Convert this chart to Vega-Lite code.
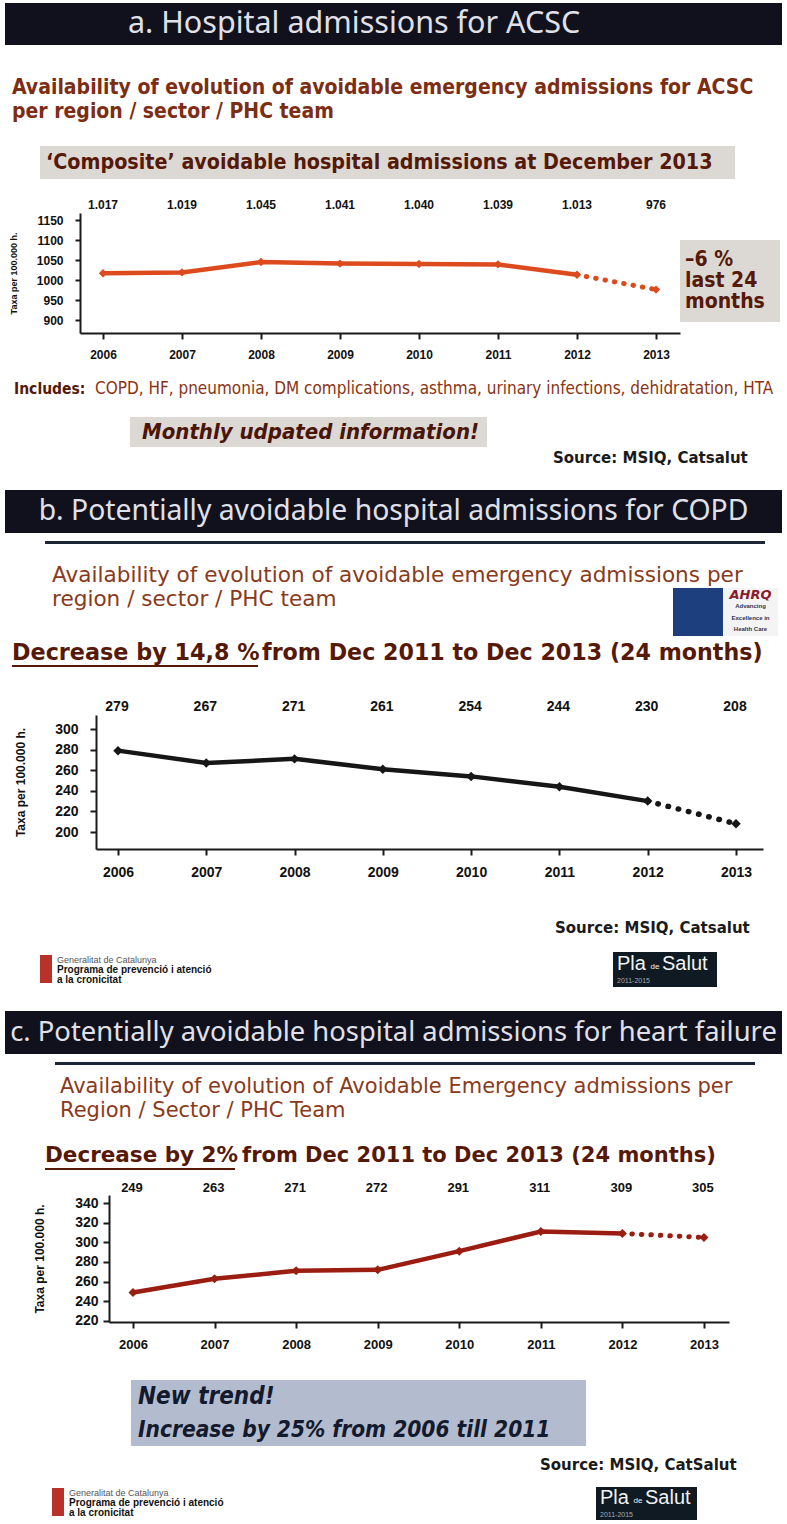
{
"$schema": "https://vega.github.io/schema/vega-lite/v6.json",
"background": "white",
"padding": 0,
"spacing": 0,
"bounds": "full",
"config": {"view": {"stroke": null}, "concat": {"spacing": 0}, "axis": {"grid": false}},
"datasets": {
"texts": [
{"id": "bA", "text": "a. Hospital admissions for ACSC"},
{"id": "bB", "text": "b. Potentially avoidable hospital admissions for COPD"},
{"id": "bC", "text": "c. Potentially avoidable hospital admissions for heart failure"},
{"id": "avA1", "text": "Availability of evolution of avoidable emergency admissions for ACSC"},
{"id": "avA2", "text": "per region / sector / PHC team"},
{"id": "compA", "text": "‘Composite’ avoidable hospital admissions at December 2013"},
{"id": "boxA1", "text": "–6 %"},
{"id": "boxA2", "text": "last 24"},
{"id": "boxA3", "text": "months"},
{"id": "incA", "text": "Includes:"},
{"id": "incB", "text": "COPD, HF, pneumonia, DM complications, asthma, urinary infections, dehidratation, HTA"},
{"id": "monA", "text": "Monthly udpated information!"},
{"id": "srcA", "text": "Source: MSIQ, Catsalut"},
{"id": "avB1", "text": "Availability of evolution of avoidable emergency admissions per"},
{"id": "avB2", "text": "region / sector / PHC team"},
{"id": "ahrq", "text": "AHRQ"},
{"id": "ahrq2", "text": "Advancing"},
{"id": "ahrq3", "text": "Excellence in"},
{"id": "ahrq4", "text": "Health Care"},
{"id": "decB1", "text": "Decrease by 14,8 %"},
{"id": "decB2", "text": "from Dec 2011 to Dec 2013 (24 months)"},
{"id": "srcB", "text": "Source: MSIQ, Catsalut"},
{"id": "gen1", "text": "Generalitat de Catalunya"},
{"id": "gen2", "text": "Programa de prevenció i atenció"},
{"id": "gen3", "text": "a la cronicitat"},
{"id": "pla1", "text": "Pla"},
{"id": "pla2", "text": "de"},
{"id": "pla3", "text": "Salut"},
{"id": "plaY", "text": "2011-2015"},
{"id": "avC1", "text": "Availability of evolution of Avoidable Emergency admissions per"},
{"id": "avC2", "text": "Region / Sector / PHC Team"},
{"id": "decC1", "text": "Decrease by 2%"},
{"id": "decC2", "text": "from Dec 2011 to Dec 2013 (24 months)"},
{"id": "nt1", "text": "New trend!"},
{"id": "nt2", "text": "Increase by 25% from 2006 till 2011"},
{"id": "srcC", "text": "Source: MSIQ, CatSalut"}
],
"acsc": [
{"year": 2006, "value": 1017, "label": "1.017"},
{"year": 2007, "value": 1019, "label": "1.019"},
{"year": 2008, "value": 1045, "label": "1.045"},
{"year": 2009, "value": 1041, "label": "1.041"},
{"year": 2010, "value": 1040, "label": "1.040"},
{"year": 2011, "value": 1039, "label": "1.039"},
{"year": 2012, "value": 1013, "label": "1.013"},
{"year": 2013, "value": 976, "label": "976"}
],
"copd": [
{"year": 2006, "value": 279},
{"year": 2007, "value": 267},
{"year": 2008, "value": 271},
{"year": 2009, "value": 261},
{"year": 2010, "value": 254},
{"year": 2011, "value": 244},
{"year": 2012, "value": 230},
{"year": 2013, "value": 208}
],
"hf": [
{"year": 2006, "value": 249},
{"year": 2007, "value": 263},
{"year": 2008, "value": 271},
{"year": 2009, "value": 272},
{"year": 2010, "value": 291},
{"year": 2011, "value": 311},
{"year": 2012, "value": 309},
{"year": 2013, "value": 305}
]
},
"vconcat": [
{"width": 787, "height": 3, "data": {"values": []}, "mark": "point"},
{"spacing": 0, "hconcat": [
 {"width": 5, "height": 42, "data": {"values": []}, "mark": "point"},
 {"width": 777, "height": 42, "view": {"fill": "#10111d"}, "data": {"name": "texts"}, "transform": [{"filter": "datum.id==='bA'"}],
  "mark": {"type": "text", "align": "left", "baseline": "middle", "font": "Noto Sans", "fontSize": 30.5, "fill": "#e0e0e8"},
  "encoding": {"text": {"field": "text"}, "x": {"datum": "s", "type": "nominal", "scale": {"type": "point", "align": 0.1583}, "axis": null}}}
]},
{"width": 787, "height": 31, "data": {"values": []}, "mark": "point"},
{"spacing": 0, "hconcat": [
 {"width": 12, "height": 24, "data": {"values": []}, "mark": "point"},
 {"width": 770, "height": 24, "data": {"name": "texts"}, "transform": [{"filter": "datum.id==='avA1'"}],
  "mark": {"type": "text", "align": "left", "baseline": "middle", "font": "DejaVu Sans Condensed, DejaVu Sans", "fontSize": 21, "fontWeight": "bold", "fill": "#7d2d12"},
  "encoding": {"text": {"field": "text"}, "x": {"datum": "s", "type": "nominal", "scale": {"type": "point", "padding": 0, "align": 0}, "axis": null}}}
]},
{"spacing": 0, "hconcat": [
 {"width": 12, "height": 24, "data": {"values": []}, "mark": "point"},
 {"width": 420, "height": 24, "data": {"name": "texts"}, "transform": [{"filter": "datum.id==='avA2'"}],
  "mark": {"type": "text", "align": "left", "baseline": "middle", "font": "DejaVu Sans Condensed, DejaVu Sans", "fontSize": 21, "fontWeight": "bold", "fill": "#7d2d12"},
  "encoding": {"text": {"field": "text"}, "x": {"datum": "s", "type": "nominal", "scale": {"type": "point", "padding": 0, "align": 0}, "axis": null}}}
]},
{"width": 787, "height": 22, "data": {"values": []}, "mark": "point"},
{"spacing": 0, "hconcat": [
 {"width": 40, "height": 33, "data": {"values": []}, "mark": "point"},
 {"width": 695, "height": 33, "view": {"fill": "#dcd8d4"}, "data": {"name": "texts"}, "transform": [{"filter": "datum.id==='compA'"}],
  "mark": {"type": "text", "align": "left", "baseline": "middle", "font": "DejaVu Sans Condensed, DejaVu Sans", "fontSize": 21.3, "fontWeight": "bold", "fill": "#561807"},
  "encoding": {"text": {"field": "text"}, "x": {"datum": "s", "type": "nominal", "scale": {"type": "point", "align": 0.0086}, "axis": null}}}
]},
{"width": 787, "height": 18, "data": {"values": []}, "mark": "point"},
{"spacing": 0, "hconcat": [
 {"width": 80, "height": 16, "data": {"values": []}, "mark": "point"},
 {"width": 600, "height": 16, "data": {"name": "acsc"},
  "mark": {"type": "text", "baseline": "middle", "font": "Liberation Sans Narrow, Liberation Sans", "fontSize": 12, "fontWeight": "bold", "fill": "#111111"},
  "encoding": {"x": {"field": "year", "type": "quantitative", "scale": {"domain": [2005.709, 2013.304], "nice": false, "zero": false}, "axis": null}, "text": {"field": "label"}}}
]},
{"spacing": 0, "hconcat": [
 {"width": 9, "height": 120, "data": {"values": []}, "mark": "point"},
 {"width": 600, "height": 120, "data": {"name": "acsc"},
  "encoding": {
   "x": {"field": "year", "type": "quantitative", "scale": {"domain": [2005.709, 2013.304], "nice": false, "zero": false},
    "axis": {"values": [2006, 2007, 2008, 2009, 2010, 2011, 2012, 2013], "format": "d", "title": null, "domainColor": "#1a1a1a", "domainWidth": 2, "tickColor": "#1a1a1a", "tickWidth": 2, "tickSize": 6, "labelPadding": 10, "labelFont": "Liberation Sans Narrow, Liberation Sans", "labelFontSize": 12, "labelFontWeight": "bold", "labelColor": "#111111", "labelFlush": false, "labelOverlap": false}},
   "y": {"field": "value", "type": "quantitative", "scale": {"domain": [867.5, 1167.5], "nice": false, "zero": false},
    "axis": {"values": [900, 950, 1000, 1050, 1100, 1150], "format": "d", "title": "Taxa per 100.000 h.", "titleFont": "Liberation Sans", "titleFontSize": 9, "titleFontWeight": "bold", "titleColor": "#111111", "titlePadding": 22, "minExtent": 40, "maxExtent": 40, "domainColor": "#1a1a1a", "domainWidth": 2, "tickColor": "#1a1a1a", "tickWidth": 2, "tickSize": 5, "labelPadding": 12, "labelFont": "Liberation Sans Narrow, Liberation Sans", "labelFontSize": 12, "labelFontWeight": "bold", "labelColor": "#111111", "labelOverlap": false}}
  },
  "layer": [
   {"transform": [{"filter": "datum.year <= 2012"}], "mark": {"type": "line", "color": "#dc4a1d", "strokeWidth": 4.5}},
   {"transform": [{"filter": "datum.year >= 2012"}], "mark": {"type": "line", "color": "#dc4a1d", "strokeWidth": 5, "strokeDash": [0.5, 9], "strokeCap": "round"}},
   {"mark": {"type": "point", "shape": "diamond", "filled": true, "size": 70, "color": "#dc4a1d", "opacity": 1}}
  ]},
 {"spacing": 0, "vconcat": [
  {"width": 100, "height": 27, "data": {"values": []}, "mark": "point"},
  {"width": 100, "height": 82, "view": {"fill": "#dcd8d4"}, "data": {"name": "texts"}, "transform": [{"filter": "indexof(['boxA1','boxA2','boxA3'], datum.id) >= 0"}],
   "mark": {"type": "text", "align": "left", "baseline": "middle", "font": "DejaVu Sans Condensed, DejaVu Sans", "fontSize": 21, "fontWeight": "bold", "fill": "#561807"},
   "encoding": {"text": {"field": "text"},
    "x": {"datum": "s", "type": "nominal", "scale": {"type": "point", "align": 0.05}, "axis": null},
    "y": {"field": "id", "type": "nominal", "sort": ["boxA1", "boxA2", "boxA3"], "scale": {"type": "point", "padding": 0.907}, "axis": null}}}
 ]},
 {"width": 1, "height": 164, "data": {"values": []}, "mark": "point"}
]},
{"spacing": 0, "hconcat": [
 {"width": 14, "height": 24, "data": {"values": []}, "mark": "point"},
 {"width": 81, "height": 24, "data": {"name": "texts"}, "transform": [{"filter": "datum.id==='incA'"}],
  "mark": {"type": "text", "align": "left", "baseline": "middle", "font": "DejaVu Sans Condensed, DejaVu Sans", "fontSize": 15.5, "fontWeight": "bold", "fill": "#561807"},
  "encoding": {"text": {"field": "text"}, "x": {"datum": "s", "type": "nominal", "scale": {"type": "point", "padding": 0, "align": 0}, "axis": null}}},
 {"width": 690, "height": 24, "data": {"name": "texts"}, "transform": [{"filter": "datum.id==='incB'"}],
  "mark": {"type": "text", "align": "left", "baseline": "middle", "font": "DejaVu Sans Condensed, DejaVu Sans", "fontSize": 17, "fill": "#8c3312"},
  "encoding": {"text": {"field": "text"}, "x": {"datum": "s", "type": "nominal", "scale": {"type": "point", "padding": 0, "align": 0}, "axis": null}}}
]},
{"width": 787, "height": 16, "data": {"values": []}, "mark": "point"},
{"spacing": 0, "hconcat": [
 {"width": 130, "height": 30, "data": {"values": []}, "mark": "point"},
 {"width": 357, "height": 30, "view": {"fill": "#dcd8d4"}, "data": {"name": "texts"}, "transform": [{"filter": "datum.id==='monA'"}],
  "mark": {"type": "text", "align": "left", "baseline": "middle", "font": "DejaVu Sans Condensed, DejaVu Sans", "fontSize": 22, "fontWeight": "bold", "fontStyle": "italic", "fill": "#4a1407"},
  "encoding": {"text": {"field": "text"}, "x": {"datum": "s", "type": "nominal", "scale": {"type": "point", "align": 0.0336}, "axis": null}}}
]},
{"spacing": 0, "hconcat": [
 {"width": 553, "height": 22, "data": {"values": []}, "mark": "point"},
 {"width": 225, "height": 22, "data": {"name": "texts"}, "transform": [{"filter": "datum.id==='srcA'"}],
  "mark": {"type": "text", "align": "left", "baseline": "middle", "font": "DejaVu Sans", "fontSize": 15, "fontWeight": "bold", "fill": "#1a1a1a"},
  "encoding": {"text": {"field": "text"}, "x": {"datum": "s", "type": "nominal", "scale": {"type": "point", "padding": 0, "align": 0}, "axis": null}}}
]},
{"width": 787, "height": 21, "data": {"values": []}, "mark": "point"},
{"spacing": 0, "hconcat": [
 {"width": 5, "height": 43, "data": {"values": []}, "mark": "point"},
 {"width": 777, "height": 43, "view": {"fill": "#10111d"}, "data": {"name": "texts"}, "transform": [{"filter": "datum.id==='bB'"}],
  "mark": {"type": "text", "baseline": "middle", "font": "Noto Sans", "fontSize": 28.3, "fill": "#e0e0e8"},
  "encoding": {"text": {"field": "text"}}}
]},
{"width": 787, "height": 8, "data": {"values": []}, "mark": "point"},
{"spacing": 0, "hconcat": [
 {"width": 45, "height": 3, "data": {"values": []}, "mark": "point"},
 {"width": 720, "height": 3, "view": {"fill": "#1c2636"}, "data": {"values": []}, "mark": "point"}
]},
{"width": 787, "height": 20, "data": {"values": []}, "mark": "point"},
{"spacing": 0, "hconcat": [
 {"width": 52, "height": 24, "data": {"values": []}, "mark": "point"},
 {"width": 725, "height": 24, "data": {"name": "texts"}, "transform": [{"filter": "datum.id==='avB1'"}],
  "mark": {"type": "text", "align": "left", "baseline": "middle", "font": "DejaVu Sans", "fontSize": 21.6, "fill": "#8a3a1a"},
  "encoding": {"text": {"field": "text"}, "x": {"datum": "s", "type": "nominal", "scale": {"type": "point", "padding": 0, "align": 0}, "axis": null}}}
]},
{"spacing": 0, "hconcat": [
 {"width": 52, "height": 24, "data": {"values": []}, "mark": "point"},
 {"width": 400, "height": 24, "data": {"name": "texts"}, "transform": [{"filter": "datum.id==='avB2'"}],
  "mark": {"type": "text", "align": "left", "baseline": "middle", "font": "DejaVu Sans", "fontSize": 21.6, "fill": "#8a3a1a"},
  "encoding": {"text": {"field": "text"}, "x": {"datum": "s", "type": "nominal", "scale": {"type": "point", "padding": 0, "align": 0}, "axis": null}}},
 {"width": 221, "height": 48, "data": {"values": []}, "mark": "point"},
 {"width": 50, "height": 48, "view": {"fill": "#1e3f7e"}, "data": {"values": []}, "mark": "point"},
 {"width": 55, "height": 48, "view": {"fill": "#f4f4f4"}, "data": {"name": "texts"}, "transform": [{"filter": "indexof(['ahrq','ahrq2','ahrq3','ahrq4'], datum.id) >= 0"}],
  "encoding": {"text": {"field": "text"},
   "y": {"field": "id", "type": "nominal", "sort": ["ahrq", "ahrq2", "ahrq3", "ahrq4"], "scale": {"type": "point", "padding": 0.6}, "axis": null}},
  "layer": [
   {"transform": [{"filter": "datum.id==='ahrq'"}], "mark": {"type": "text", "baseline": "middle", "font": "DejaVu Sans", "fontSize": 13, "fontWeight": "bold", "fontStyle": "italic", "fill": "#8b1a2b"}},
   {"transform": [{"filter": "datum.id!=='ahrq'"}], "mark": {"type": "text", "baseline": "middle", "font": "Liberation Sans", "fontSize": 6, "fontWeight": "bold", "fill": "#333355"}}
  ]}
]},
{"width": 787, "height": 5, "data": {"values": []}, "mark": "point"},
{"spacing": 0, "hconcat": [
 {"width": 12, "height": 24, "data": {"values": []}, "mark": "point"},
 {"width": 250, "height": 24, "data": {"name": "texts"}, "transform": [{"filter": "datum.id==='decB1'"}],
  "mark": {"type": "text", "align": "left", "baseline": "middle", "font": "DejaVu Sans", "fontSize": 22.3, "fontWeight": "bold", "fill": "#561807"},
  "encoding": {"text": {"field": "text"}, "x": {"datum": "s", "type": "nominal", "scale": {"type": "point", "padding": 0, "align": 0}, "axis": null}}},
 {"width": 515, "height": 24, "data": {"name": "texts"}, "transform": [{"filter": "datum.id==='decB2'"}],
  "mark": {"type": "text", "align": "left", "baseline": "middle", "font": "DejaVu Sans", "fontSize": 22.2, "fontWeight": "bold", "fill": "#561807"},
  "encoding": {"text": {"field": "text"}, "x": {"datum": "s", "type": "nominal", "scale": {"type": "point", "padding": 0, "align": 0}, "axis": null}}}
]},
{"spacing": 0, "hconcat": [
 {"width": 12, "height": 2, "data": {"values": []}, "mark": "point"},
 {"width": 246, "height": 2, "view": {"fill": "#561807"}, "data": {"values": []}, "mark": "point"}
]},
{"width": 787, "height": 32, "data": {"values": []}, "mark": "point"},
{"spacing": 0, "hconcat": [
 {"width": 95, "height": 16, "data": {"values": []}, "mark": "point"},
 {"width": 667, "height": 16, "data": {"name": "copd"},
  "mark": {"type": "text", "baseline": "middle", "font": "Liberation Sans Narrow, Liberation Sans", "fontSize": 14, "fontWeight": "bold", "fill": "#111111"},
  "encoding": {"x": {"field": "year", "type": "quantitative", "scale": {"domain": [2005.751, 2013.306], "nice": false, "zero": false}, "axis": null}, "text": {"field": "value"}}}
]},
{"spacing": 0, "hconcat": [
 {"width": 14, "height": 134, "data": {"values": []}, "mark": "point"},
 {"width": 667, "height": 134, "data": {"name": "copd"},
  "encoding": {
   "x": {"field": "year", "type": "quantitative", "scale": {"domain": [2005.751, 2013.306], "nice": false, "zero": false},
    "axis": {"values": [2006, 2007, 2008, 2009, 2010, 2011, 2012, 2013], "format": "d", "title": null, "domainColor": "#1a1a1a", "domainWidth": 2, "tickColor": "#1a1a1a", "tickWidth": 2, "tickSize": 6, "labelPadding": 10, "labelFont": "Liberation Sans Narrow, Liberation Sans", "labelFontSize": 14, "labelFontWeight": "bold", "labelColor": "#111111", "labelFlush": false, "labelOverlap": false}},
   "y": {"field": "value", "type": "quantitative", "scale": {"domain": [183.5, 313.6], "nice": false, "zero": false},
    "axis": {"values": [200, 220, 240, 260, 280, 300], "format": "d", "title": "Taxa per 100.000 h.", "titleFont": "Liberation Sans", "titleFontSize": 12, "titleFontWeight": "bold", "titleColor": "#111111", "titlePadding": 29, "minExtent": 40, "maxExtent": 40, "domainColor": "#1a1a1a", "domainWidth": 2, "tickColor": "#1a1a1a", "tickWidth": 2, "tickSize": 6, "labelPadding": 12, "labelFont": "Liberation Sans Narrow, Liberation Sans", "labelFontSize": 14, "labelFontWeight": "bold", "labelColor": "#111111", "labelOverlap": false}}
  },
  "layer": [
   {"transform": [{"filter": "datum.year <= 2012"}], "mark": {"type": "line", "color": "#161616", "strokeWidth": 4.5}},
   {"transform": [{"filter": "datum.year >= 2012"}], "mark": {"type": "line", "color": "#161616", "strokeWidth": 5.5, "strokeDash": [0.5, 10], "strokeCap": "round"}},
   {"mark": {"type": "point", "shape": "diamond", "filled": true, "size": 90, "color": "#161616", "opacity": 1}}
  ]},
 {"width": 1, "height": 203, "data": {"values": []}, "mark": "point"}
]},
{"spacing": 0, "hconcat": [
 {"width": 555, "height": 20, "data": {"values": []}, "mark": "point"},
 {"width": 225, "height": 20, "data": {"name": "texts"}, "transform": [{"filter": "datum.id==='srcB'"}],
  "mark": {"type": "text", "align": "left", "baseline": "middle", "font": "DejaVu Sans", "fontSize": 15, "fontWeight": "bold", "fill": "#1a1a1a"},
  "encoding": {"text": {"field": "text"}, "x": {"datum": "s", "type": "nominal", "scale": {"type": "point", "padding": 0, "align": 0}, "axis": null}}}
]},
{"width": 787, "height": 14, "data": {"values": []}, "mark": "point"},
{"spacing": 0, "hconcat": [
 {"width": 40, "height": 35, "data": {"values": []}, "mark": "point"},
 {"spacing": 0, "vconcat": [
  {"width": 182, "height": 3, "data": {"values": []}, "mark": "point"},
  {"spacing": 0, "hconcat": [
   {"width": 12, "height": 28, "view": {"fill": "#b8322a"}, "data": {"values": []}, "mark": "point"},
   {"width": 5, "height": 28, "data": {"values": []}, "mark": "point"},
   {"spacing": 0, "vconcat": [
    {"width": 165, "height": 10, "data": {"name": "texts"}, "transform": [{"filter": "datum.id==='gen1'"}],
     "mark": {"type": "text", "align": "left", "baseline": "middle", "font": "Liberation Sans", "fontSize": 9, "fill": "#555555"},
     "encoding": {"text": {"field": "text"}, "x": {"datum": "s", "type": "nominal", "scale": {"type": "point", "padding": 0, "align": 0}, "axis": null}}},
    {"width": 165, "height": 10, "data": {"name": "texts"}, "transform": [{"filter": "datum.id==='gen2'"}],
     "mark": {"type": "text", "align": "left", "baseline": "middle", "font": "Liberation Sans", "fontSize": 10, "fontWeight": "bold", "fill": "#111111"},
     "encoding": {"text": {"field": "text"}, "x": {"datum": "s", "type": "nominal", "scale": {"type": "point", "padding": 0, "align": 0}, "axis": null}}},
    {"width": 165, "height": 10, "data": {"name": "texts"}, "transform": [{"filter": "datum.id==='gen3'"}],
     "mark": {"type": "text", "align": "left", "baseline": "middle", "font": "Liberation Sans", "fontSize": 10, "fontWeight": "bold", "fill": "#111111"},
     "encoding": {"text": {"field": "text"}, "x": {"datum": "s", "type": "nominal", "scale": {"type": "point", "padding": 0, "align": 0}, "axis": null}}}
   ]}
  ]}
 ]},
 {"width": 391, "height": 35, "data": {"values": []}, "mark": "point"},
 {"spacing": 0, "vconcat": [
  {"spacing": 0, "hconcat": [
   {"width": 4, "height": 23, "view": {"fill": "#0f1a22"}, "data": {"values": []}, "mark": "point"},
   {"width": 31, "height": 23, "view": {"fill": "#0f1a22"}, "data": {"name": "texts"}, "transform": [{"filter": "datum.id==='pla1'"}],
    "mark": {"type": "text", "align": "left", "baseline": "middle", "font": "Liberation Sans", "fontSize": 20, "fill": "#f2f2f2"},
    "encoding": {"text": {"field": "text"}, "x": {"datum": "s", "type": "nominal", "scale": {"type": "point", "padding": 0, "align": 0}, "axis": null}}},
   {"width": 14, "height": 23, "view": {"fill": "#0f1a22"}, "data": {"name": "texts"}, "transform": [{"filter": "datum.id==='pla2'"}],
    "mark": {"type": "text", "baseline": "middle", "font": "Liberation Sans", "fontSize": 8, "fill": "#f2f2f2", "dy": 3},
    "encoding": {"text": {"field": "text"}}},
   {"width": 55, "height": 23, "view": {"fill": "#0f1a22"}, "data": {"name": "texts"}, "transform": [{"filter": "datum.id==='pla3'"}],
    "mark": {"type": "text", "align": "left", "baseline": "middle", "font": "Liberation Sans", "fontSize": 20, "fill": "#f2f2f2"},
    "encoding": {"text": {"field": "text"}, "x": {"datum": "s", "type": "nominal", "scale": {"type": "point", "padding": 0, "align": 0}, "axis": null}}}
  ]},
  {"spacing": 0, "hconcat": [
   {"width": 4, "height": 12, "view": {"fill": "#0f1a22"}, "data": {"values": []}, "mark": "point"},
   {"width": 100, "height": 12, "view": {"fill": "#0f1a22"}, "data": {"name": "texts"}, "transform": [{"filter": "datum.id==='plaY'"}],
    "mark": {"type": "text", "align": "left", "baseline": "middle", "font": "Liberation Sans", "fontSize": 7, "fill": "#a8aab8"},
    "encoding": {"text": {"field": "text"}, "x": {"datum": "s", "type": "nominal", "scale": {"type": "point", "padding": 0, "align": 0}, "axis": null}}}
  ]}
 ]}
]},
{"width": 787, "height": 24, "data": {"values": []}, "mark": "point"},
{"spacing": 0, "hconcat": [
 {"width": 5, "height": 43, "data": {"values": []}, "mark": "point"},
 {"width": 777, "height": 43, "view": {"fill": "#10111d"}, "data": {"name": "texts"}, "transform": [{"filter": "datum.id==='bC'"}],
  "mark": {"type": "text", "baseline": "middle", "font": "Noto Sans", "fontSize": 27.4, "fill": "#e0e0e8"},
  "encoding": {"text": {"field": "text"}}}
]},
{"width": 787, "height": 8, "data": {"values": []}, "mark": "point"},
{"spacing": 0, "hconcat": [
 {"width": 55, "height": 3, "data": {"values": []}, "mark": "point"},
 {"width": 700, "height": 3, "view": {"fill": "#1c2636"}, "data": {"values": []}, "mark": "point"}
]},
{"width": 787, "height": 10, "data": {"values": []}, "mark": "point"},
{"spacing": 0, "hconcat": [
 {"width": 60, "height": 24, "data": {"values": []}, "mark": "point"},
 {"width": 710, "height": 24, "data": {"name": "texts"}, "transform": [{"filter": "datum.id==='avC1'"}],
  "mark": {"type": "text", "align": "left", "baseline": "middle", "font": "DejaVu Sans", "fontSize": 21, "fill": "#8a3a1a"},
  "encoding": {"text": {"field": "text"}, "x": {"datum": "s", "type": "nominal", "scale": {"type": "point", "padding": 0, "align": 0}, "axis": null}}}
]},
{"spacing": 0, "hconcat": [
 {"width": 60, "height": 24, "data": {"values": []}, "mark": "point"},
 {"width": 400, "height": 24, "data": {"name": "texts"}, "transform": [{"filter": "datum.id==='avC2'"}],
  "mark": {"type": "text", "align": "left", "baseline": "middle", "font": "DejaVu Sans", "fontSize": 21, "fill": "#8a3a1a"},
  "encoding": {"text": {"field": "text"}, "x": {"datum": "s", "type": "nominal", "scale": {"type": "point", "padding": 0, "align": 0}, "axis": null}}}
]},
{"width": 787, "height": 21, "data": {"values": []}, "mark": "point"},
{"spacing": 0, "hconcat": [
 {"width": 45, "height": 24, "data": {"values": []}, "mark": "point"},
 {"width": 197, "height": 24, "data": {"name": "texts"}, "transform": [{"filter": "datum.id==='decC1'"}],
  "mark": {"type": "text", "align": "left", "baseline": "middle", "font": "DejaVu Sans", "fontSize": 21.5, "fontWeight": "bold", "fill": "#561807"},
  "encoding": {"text": {"field": "text"}, "x": {"datum": "s", "type": "nominal", "scale": {"type": "point", "padding": 0, "align": 0}, "axis": null}}},
 {"width": 515, "height": 24, "data": {"name": "texts"}, "transform": [{"filter": "datum.id==='decC2'"}],
  "mark": {"type": "text", "align": "left", "baseline": "middle", "font": "DejaVu Sans", "fontSize": 21, "fontWeight": "bold", "fill": "#561807"},
  "encoding": {"text": {"field": "text"}, "x": {"datum": "s", "type": "nominal", "scale": {"type": "point", "padding": 0, "align": 0}, "axis": null}}}
]},
{"spacing": 0, "hconcat": [
 {"width": 45, "height": 2, "data": {"values": []}, "mark": "point"},
 {"width": 190, "height": 2, "view": {"fill": "#561807"}, "data": {"values": []}, "mark": "point"}
]},
{"width": 787, "height": 11, "data": {"values": []}, "mark": "point"},
{"spacing": 0, "hconcat": [
 {"width": 108, "height": 14, "data": {"values": []}, "mark": "point"},
 {"width": 620, "height": 14, "data": {"name": "hf"},
  "mark": {"type": "text", "baseline": "middle", "font": "Liberation Sans Narrow, Liberation Sans", "fontSize": 13, "fontWeight": "bold", "fill": "#111111"},
  "encoding": {"x": {"field": "year", "type": "quantitative", "scale": {"domain": [2005.706, 2013.307], "nice": false, "zero": false}, "axis": null}, "text": {"field": "value"}}}
]},
{"spacing": 0, "hconcat": [
 {"width": 33, "height": 127, "data": {"values": []}, "mark": "point"},
 {"width": 620, "height": 127, "data": {"name": "hf"},
  "encoding": {
   "x": {"field": "year", "type": "quantitative", "scale": {"domain": [2005.706, 2013.307], "nice": false, "zero": false},
    "axis": {"values": [2006, 2007, 2008, 2009, 2010, 2011, 2012, 2013], "format": "d", "title": null, "domainColor": "#1a1a1a", "domainWidth": 2, "tickColor": "#1a1a1a", "tickWidth": 2, "tickSize": 6, "labelPadding": 10, "labelFont": "Liberation Sans Narrow, Liberation Sans", "labelFontSize": 13, "labelFontWeight": "bold", "labelColor": "#111111", "labelFlush": false, "labelOverlap": false}},
   "y": {"field": "value", "type": "quantitative", "scale": {"domain": [218.94, 348.14], "nice": false, "zero": false},
    "axis": {"values": [220, 240, 260, 280, 300, 320, 340], "format": "d", "title": "Taxa per 100.000 h.", "titleFont": "Liberation Sans", "titleFontSize": 12, "titleFontWeight": "bold", "titleColor": "#111111", "titlePadding": 23, "minExtent": 40, "maxExtent": 40, "domainColor": "#1a1a1a", "domainWidth": 2, "tickColor": "#1a1a1a", "tickWidth": 2, "tickSize": 6, "labelPadding": 5, "labelFont": "Liberation Sans Narrow, Liberation Sans", "labelFontSize": 14, "labelFontWeight": "bold", "labelColor": "#111111", "labelOverlap": false}}
  },
  "layer": [
   {"transform": [{"filter": "datum.year <= 2012"}], "mark": {"type": "line", "color": "#9b1c10", "strokeWidth": 4.5}},
   {"transform": [{"filter": "datum.year >= 2012"}], "mark": {"type": "line", "color": "#9b1c10", "strokeWidth": 5, "strokeDash": [0.5, 9], "strokeCap": "round"}},
   {"mark": {"type": "point", "shape": "diamond", "filled": true, "size": 80, "color": "#9b1c10", "opacity": 1}}
  ]},
 {"width": 1, "height": 185, "data": {"values": []}, "mark": "point"}
]},
{"spacing": 0, "hconcat": [
 {"width": 131, "height": 66, "data": {"values": []}, "mark": "point"},
 {"width": 455, "height": 66, "view": {"fill": "#b3bccf"}, "data": {"name": "texts"}, "transform": [{"filter": "indexof(['nt1','nt2'], datum.id) >= 0"}],
  "encoding": {"text": {"field": "text"},
   "x": {"datum": "s", "type": "nominal", "scale": {"type": "point", "align": 0.0154}, "axis": null},
   "y": {"field": "id", "type": "nominal", "sort": ["nt1", "nt2"], "scale": {"type": "point", "padding": 0.5}, "axis": null}},
  "layer": [
   {"transform": [{"filter": "datum.id==='nt1'"}], "mark": {"type": "text", "align": "left", "baseline": "middle", "font": "DejaVu Sans Condensed, DejaVu Sans", "fontSize": 24, "fontWeight": "bold", "fontStyle": "italic", "fill": "#141a2e"}},
   {"transform": [{"filter": "datum.id==='nt2'"}], "mark": {"type": "text", "align": "left", "baseline": "middle", "font": "DejaVu Sans Condensed, DejaVu Sans", "fontSize": 22.5, "fontWeight": "bold", "fontStyle": "italic", "fill": "#141a2e"}}
  ]}
]},
{"width": 787, "height": 8, "data": {"values": []}, "mark": "point"},
{"spacing": 0, "hconcat": [
 {"width": 540, "height": 22, "data": {"values": []}, "mark": "point"},
 {"width": 225, "height": 22, "data": {"name": "texts"}, "transform": [{"filter": "datum.id==='srcC'"}],
  "mark": {"type": "text", "align": "left", "baseline": "middle", "font": "DejaVu Sans", "fontSize": 15, "fontWeight": "bold", "fill": "#1a1a1a"},
  "encoding": {"text": {"field": "text"}, "x": {"datum": "s", "type": "nominal", "scale": {"type": "point", "padding": 0, "align": 0}, "axis": null}}}
]},
{"width": 787, "height": 9, "data": {"values": []}, "mark": "point"},
{"spacing": 0, "hconcat": [
 {"width": 52, "height": 35, "data": {"values": []}, "mark": "point"},
 {"spacing": 0, "vconcat": [
  {"width": 182, "height": 3, "data": {"values": []}, "mark": "point"},
  {"spacing": 0, "hconcat": [
   {"width": 12, "height": 28, "view": {"fill": "#b8322a"}, "data": {"values": []}, "mark": "point"},
   {"width": 5, "height": 28, "data": {"values": []}, "mark": "point"},
   {"spacing": 0, "vconcat": [
    {"width": 165, "height": 10, "data": {"name": "texts"}, "transform": [{"filter": "datum.id==='gen1'"}],
     "mark": {"type": "text", "align": "left", "baseline": "middle", "font": "Liberation Sans", "fontSize": 9, "fill": "#555555"},
     "encoding": {"text": {"field": "text"}, "x": {"datum": "s", "type": "nominal", "scale": {"type": "point", "padding": 0, "align": 0}, "axis": null}}},
    {"width": 165, "height": 10, "data": {"name": "texts"}, "transform": [{"filter": "datum.id==='gen2'"}],
     "mark": {"type": "text", "align": "left", "baseline": "middle", "font": "Liberation Sans", "fontSize": 10, "fontWeight": "bold", "fill": "#111111"},
     "encoding": {"text": {"field": "text"}, "x": {"datum": "s", "type": "nominal", "scale": {"type": "point", "padding": 0, "align": 0}, "axis": null}}},
    {"width": 165, "height": 10, "data": {"name": "texts"}, "transform": [{"filter": "datum.id==='gen3'"}],
     "mark": {"type": "text", "align": "left", "baseline": "middle", "font": "Liberation Sans", "fontSize": 10, "fontWeight": "bold", "fill": "#111111"},
     "encoding": {"text": {"field": "text"}, "x": {"datum": "s", "type": "nominal", "scale": {"type": "point", "padding": 0, "align": 0}, "axis": null}}}
   ]}
  ]}
 ]},
 {"width": 362, "height": 35, "data": {"values": []}, "mark": "point"},
 {"spacing": 0, "vconcat": [
  {"width": 101, "height": 2, "data": {"values": []}, "mark": "point"},
  {"spacing": 0, "hconcat": [
   {"width": 4, "height": 22, "view": {"fill": "#0f1a22"}, "data": {"values": []}, "mark": "point"},
   {"width": 31, "height": 22, "view": {"fill": "#0f1a22"}, "data": {"name": "texts"}, "transform": [{"filter": "datum.id==='pla1'"}],
    "mark": {"type": "text", "align": "left", "baseline": "middle", "font": "Liberation Sans", "fontSize": 20, "fill": "#f2f2f2"},
    "encoding": {"text": {"field": "text"}, "x": {"datum": "s", "type": "nominal", "scale": {"type": "point", "padding": 0, "align": 0}, "axis": null}}},
   {"width": 14, "height": 22, "view": {"fill": "#0f1a22"}, "data": {"name": "texts"}, "transform": [{"filter": "datum.id==='pla2'"}],
    "mark": {"type": "text", "baseline": "middle", "font": "Liberation Sans", "fontSize": 8, "fill": "#f2f2f2", "dy": 3},
    "encoding": {"text": {"field": "text"}}},
   {"width": 52, "height": 22, "view": {"fill": "#0f1a22"}, "data": {"name": "texts"}, "transform": [{"filter": "datum.id==='pla3'"}],
    "mark": {"type": "text", "align": "left", "baseline": "middle", "font": "Liberation Sans", "fontSize": 20, "fill": "#f2f2f2"},
    "encoding": {"text": {"field": "text"}, "x": {"datum": "s", "type": "nominal", "scale": {"type": "point", "padding": 0, "align": 0}, "axis": null}}}
  ]},
  {"spacing": 0, "hconcat": [
   {"width": 4, "height": 11, "view": {"fill": "#0f1a22"}, "data": {"values": []}, "mark": "point"},
   {"width": 97, "height": 11, "view": {"fill": "#0f1a22"}, "data": {"name": "texts"}, "transform": [{"filter": "datum.id==='plaY'"}],
    "mark": {"type": "text", "align": "left", "baseline": "middle", "font": "Liberation Sans", "fontSize": 7, "fill": "#a8aab8"},
    "encoding": {"text": {"field": "text"}, "x": {"datum": "s", "type": "nominal", "scale": {"type": "point", "padding": 0, "align": 0}, "axis": null}}}
  ]}
 ]}
]},
{"width": 787, "height": 4, "data": {"values": []}, "mark": "point"}
]
}
